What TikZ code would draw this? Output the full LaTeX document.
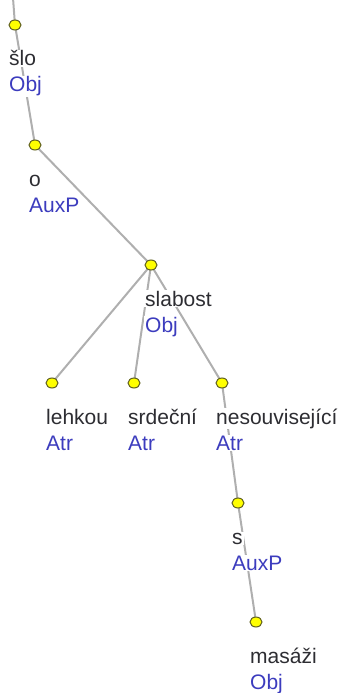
\documentclass[tikz,border=0pt]{standalone}
\usepackage{fontspec}
\setmainfont{Liberation Sans}
\usetikzlibrary{calc,shapes.geometric}
\definecolor{wordc}{RGB}{45,45,50}
\definecolor{funcc}{RGB}{60,60,190}
\definecolor{edgec}{RGB}{175,175,175}
\definecolor{dotc}{RGB}{255,255,0}
\definecolor{dotb}{RGB}{95,95,30}
\tikzset{
  dot/.style={ellipse,fill=dotc,draw=dotb,line width=1pt,minimum width=12pt,minimum height=10pt,inner sep=0pt},
  edge/.style={draw=edgec,line width=2pt},
  wordlbl/.style={anchor=base west,fill=white,inner sep=1pt,text=wordc,font=\fontsize{21}{24}\selectfont},
  funclbl/.style={anchor=base west,fill=white,inner sep=1pt,text=funcc,font=\fontsize{21}{24}\selectfont},
}
\begin{document}
\begin{tikzpicture}[x=1pt,y=-1pt]
\useasboundingbox (0,0) rectangle (345,693);
% dot positions
\coordinate (top) at (13,-2);
\coordinate (p1) at (15,25);
\coordinate (p2) at (35,145);
\coordinate (p3) at (151,265);
\coordinate (p4) at (52,383);
\coordinate (p5) at (134,383);
\coordinate (p6) at (222,383);
\coordinate (p7) at (238,503);
\coordinate (p8) at (256,622);
% edges
\draw[edge] (top) -- (p1);
\draw[edge] (p1) -- (p2);
\draw[edge] (p2) -- (p3);
\draw[edge] (p3) -- (p4);
\draw[edge] (p3) -- (p5);
\draw[edge] (p3) -- (p6);
\draw[edge] (p6) -- (p7);
\draw[edge] (p7) -- (p8);
% labels
\foreach \p/\w/\f in {p1/šlo/Obj, p2/o/AuxP, p3/slabost/Obj, p4/lehkou/Atr, p5/srdeční/Atr, p6/nesouvisející/Atr, p7/s/AuxP, p8/masáži/Obj}{
  \node[wordlbl] (w\p) at ($(\p)+(-7,41)$) {\w};
  \node[funclbl] (f\p) at ($(\p)+(-7,67)$) {\f};
}
% dots
\foreach \p in {p1,p2,p3,p4,p5,p6,p7,p8}{
  \node[dot] (d\p) at (\p) {};
}
\end{tikzpicture}
\end{document}
